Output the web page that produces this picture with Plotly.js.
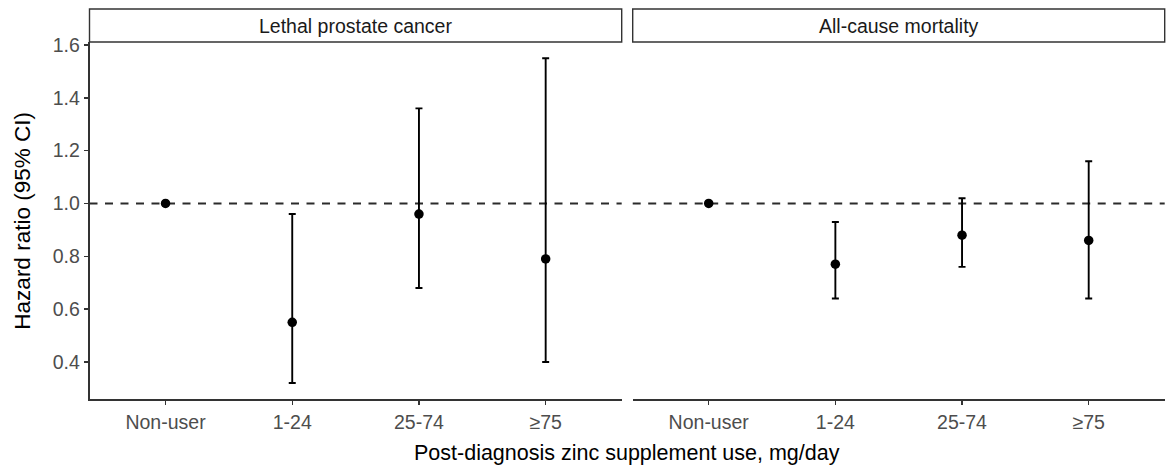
<!DOCTYPE html>
<html>
<head>
<meta charset="utf-8">
<script src="https://cdn.plot.ly/plotly-3.0.1.min.js"></script>
<style>
  html, body { margin: 0; padding: 0; background: #fff; }
  #chart { width: 1166px; height: 470px; }
</style>
</head>
<body>
<div id="chart"></div>
<script>
// ---- data ----
const categories = ["Non-user", "1-24", "25-74", "\u226575"];
const panels = ["Lethal prostate cancer", "All-cause mortality"];
const lethalHR    = [1.00, 0.55, 0.96, 0.79];
const lethalLower = [null, 0.32, 0.68, 0.40];
const lethalUpper = [null, 0.96, 1.36, 1.55];
const allHR       = [1.00, 0.77, 0.88, 0.86];
const allLower    = [null, 0.64, 0.76, 0.64];
const allUpper    = [null, 0.93, 1.02, 1.16];
const yTicks = [0.4, 0.6, 0.8, 1.0, 1.2, 1.4, 1.6];
const yTickText = ["0.4", "0.6", "0.8", "1.0", "1.2", "1.4", "1.6"];
const refHR = 1.0;

// ---- layout geometry ----
const W = 1166, H = 470;
const px = v => v / W, py = v => 1 - v / H;
const xd1 = [px(89.5), px(621.7)];
const xd2 = [px(632.7), px(1164.7)];
const yd = [py(399.3), py(42)];
const yRange = [0.2585, 1.6115];
const xRange = [-0.6, 3.6];
const FONT = "Liberation Sans, Arial, Helvetica, sans-serif";

function mkTrace(hr, lo, up, xa, ya) {
  return {
    type: "scatter", mode: "markers",
    x: categories, y: hr, xaxis: xa, yaxis: ya,
    marker: { color: "#000", size: 9.5 },
    error_y: {
      type: "data", symmetric: false, visible: true,
      array: hr.map((v, i) => up[i] == null ? NaN : up[i] - v),
      arrayminus: hr.map((v, i) => lo[i] == null ? NaN : v - lo[i]),
      color: "#000", thickness: 1.9, width: 3.5
    },
    hoverinfo: "x+y", showlegend: false, cliponaxis: false
  };
}

const traces = [
  mkTrace(lethalHR, lethalLower, lethalUpper, "x", "y"),
  mkTrace(allHR, allLower, allUpper, "x2", "y2")
];

const xaxisBase = {
  type: "category", categoryorder: "array", categoryarray: categories,
  range: xRange, showgrid: false, zeroline: false,
  showline: true, linecolor: "#333", linewidth: 1.3,
  ticks: "outside", ticklen: 4.5, tickwidth: 1.3, tickcolor: "#333",
  tickfont: { family: FONT, size: 19.5, color: "#4D4D4D" },
  fixedrange: true
};

const layout = {
  width: W, height: H,
  margin: { l: 0, r: 0, t: 0, b: 0, pad: 0 },
  paper_bgcolor: "#fff", plot_bgcolor: "rgba(0,0,0,0)",
  showlegend: false,
  xaxis: Object.assign({}, xaxisBase, { domain: xd1, anchor: "y" }),
  xaxis2: Object.assign({}, xaxisBase, { domain: xd2, anchor: "y2" }),
  yaxis: {
    domain: yd, range: yRange, anchor: "x",
    showgrid: false, zeroline: false,
    showline: true, linecolor: "#333", linewidth: 1.3,
    ticks: "outside", ticklen: 4.5, tickwidth: 1.3, tickcolor: "#333",
    tickmode: "array", tickvals: yTicks, ticktext: yTickText,
    tickfont: { family: FONT, size: 19.5, color: "#4D4D4D" },
    fixedrange: true
  },
  yaxis2: {
    domain: yd, range: yRange, anchor: "x2",
    showgrid: false, zeroline: false, showline: false,
    showticklabels: false, ticks: "", fixedrange: true
  },
  shapes: [
    { type: "line", xref: "x domain", yref: "y", x0: 0, x1: 1, y0: refHR, y1: refHR,
      line: { color: "#2b2b2b", width: 1.9, dash: "8px,7.5px" }, layer: "below" },
    { type: "line", xref: "x2 domain", yref: "y2", x0: 0, x1: 1, y0: refHR, y1: refHR,
      line: { color: "#2b2b2b", width: 1.9, dash: "8px,7.5px" }, layer: "below" },
    { type: "rect", xref: "paper", yref: "paper", x0: xd1[0], x1: xd1[1], y0: py(42), y1: py(9),
      line: { color: "#333", width: 1.4 }, fillcolor: "#fff" },
    { type: "rect", xref: "paper", yref: "paper", x0: xd2[0], x1: xd2[1], y0: py(42), y1: py(9),
      line: { color: "#333", width: 1.4 }, fillcolor: "#fff" }
  ],
  annotations: [
    { text: panels[0], xref: "paper", yref: "paper", x: (xd1[0] + xd1[1]) / 2, y: py(25.5),
      xanchor: "center", yanchor: "middle", showarrow: false,
      font: { family: FONT, size: 19.5, color: "#1A1A1A" } },
    { text: panels[1], xref: "paper", yref: "paper", x: (xd2[0] + xd2[1]) / 2, y: py(25.5),
      xanchor: "center", yanchor: "middle", showarrow: false,
      font: { family: FONT, size: 19.5, color: "#1A1A1A" } },
    { text: "Post-diagnosis zinc supplement use, mg/day", xref: "paper", yref: "paper",
      x: (xd1[0] + xd2[1]) / 2, y: py(453), xanchor: "center", yanchor: "middle", showarrow: false,
      font: { family: FONT, size: 21.5, color: "#000" } },
    { text: "Hazard ratio (95% CI)", xref: "paper", yref: "paper",
      x: px(23), y: (yd[0] + yd[1]) / 2, xanchor: "center", yanchor: "middle", showarrow: false,
      textangle: -90, font: { family: FONT, size: 22.5, color: "#000" } }
  ]
};

Plotly.newPlot("chart", traces, layout, { displayModeBar: false, staticPlot: true });
</script>
</body>
</html>
